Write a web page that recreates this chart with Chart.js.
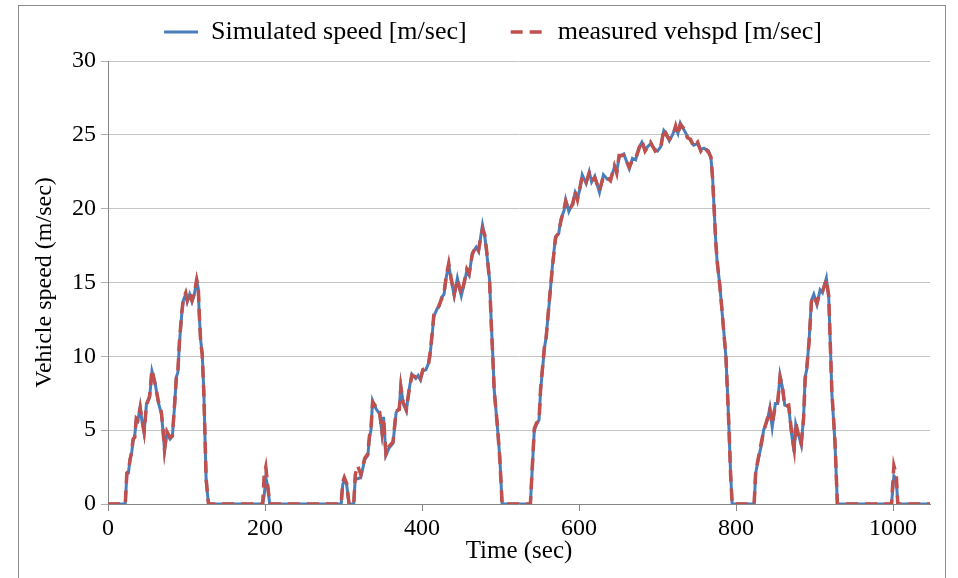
<!DOCTYPE html>
<html>
<head>
<meta charset="utf-8">
<script src="https://cdn.jsdelivr.net/npm/chart.js@4.4.0/dist/chart.umd.min.js"></script>
<style>
    html, body { margin: 0; padding: 0; background: #fff; }
    #wrap { position: relative; width: 958px; height: 578px; overflow: hidden; }
    #frame { position: absolute; left: 18px; top: 5px; width: 926px; height: 620px; border: 1px solid #8c8c8c; pointer-events: none; }
</style>
</head>
<body>
<div id="wrap">
    <canvas id="speed-chart" width="958" height="578"></canvas>
    <div id="frame"></div>
</div>
<script>
// Drive cycle: simulated vs measured vehicle speed

var timeSec = [
    0, 22, 24, 26, 28, 30, 32, 34, 36, 38, 41, 43, 46, 49, 53, 56, 60, 64, 68, 70,
    72, 75, 79, 82, 85, 87, 89, 91, 94, 96, 99, 101, 104, 107, 110, 113, 115, 116, 118, 120,
    122, 125, 128,
    197, 199, 201, 203, 206,
    297, 299, 301, 304, 307, 313, 315, 318, 322, 327, 331, 333, 335, 337, 340, 342, 346, 349, 351, 354,
    358, 363, 367, 371, 373, 376, 380, 383, 387, 392, 395, 398, 401, 405, 408, 410, 413, 415, 419, 422,
    425, 428, 431, 434, 437, 441, 445, 450, 454, 457, 460, 464, 469, 472, 475, 477, 480, 483, 486, 488,
    490, 492, 496, 499, 502,
    538, 541, 543, 546, 549, 551, 556, 558, 562, 566, 570, 574, 577, 581, 583, 587, 592, 595, 598, 601,
    604, 609, 613, 616, 620, 626, 631, 636, 640, 645, 648, 651, 657, 664, 668, 672, 676, 680, 684, 691,
    697, 700, 704, 708, 711, 715, 719, 723, 726, 729, 734, 738, 742, 746, 751, 755, 759, 765, 768, 770,
    772, 774, 776, 779, 782, 785, 787, 789, 791, 793, 795,
    823, 825, 829, 833, 835, 840, 843, 846, 850, 853, 856, 859, 862, 867, 871, 874, 876, 880, 883, 886,
    888, 890, 893, 896, 899, 903, 907, 910, 915, 918, 920, 922, 926, 929,
    998, 1001, 1004, 1006, 1047
];

var simulatedSpeed = [
    0, 0, 2.0, 2.1, 3.0, 3.4, 4.3, 4.6, 5.7, 5.6, 6.6, 5.7, 4.8, 6.8, 7.2, 9.0, 8.2, 6.9, 6.1, 5.0,
    3.6, 4.8, 4.4, 4.6, 6.8, 8.6, 8.9, 10.9, 12.9, 13.8, 14.2, 13.7, 14.2, 13.7, 14.2, 15.1, 14.6, 13.1, 11.1, 10.2,
    7.7, 1.6, 0,
    0, 0.6, 1.8, 1.3, 0,
    0, 1.3, 1.7, 1.3, 0, 0, 1.8, 1.7, 1.8, 3.0, 3.3, 4.5, 5.0, 7.0, 6.6, 6.4, 6.1, 4.8, 5.9, 3.3,
    3.8, 4.1, 6.2, 6.5, 8.0, 6.8, 6.3, 7.6, 8.8, 8.5, 8.7, 8.4, 9.0, 9.1, 9.5, 10.0, 11.5, 12.7, 13.2, 13.4,
    14.0, 14.2, 15.4, 16.2, 15.2, 14.1, 15.3, 14.1, 15.0, 15.8, 15.5, 17.0, 17.4, 17.1, 18.2, 18.9, 18.1, 16.7, 15.2, 12.5,
    10.2, 7.7, 5.2, 3.2, 0,
    0, 3.0, 5.0, 5.4, 5.7, 7.7, 10.6, 11.3, 13.6, 16.1, 18.1, 18.3, 19.3, 19.9, 20.6, 19.8, 20.4, 21.1, 20.7, 21.3,
    22.3, 21.7, 22.5, 21.8, 22.2, 21.1, 22.3, 22.0, 22.0, 22.8, 22.5, 23.5, 23.7, 22.7, 23.4, 23.3, 24.1, 24.5, 24.0, 24.4,
    24.0, 23.9, 24.2, 25.3, 25.1, 24.6, 25.0, 25.5, 25.1, 25.8, 25.3, 24.9, 24.6, 24.3, 24.4, 24.0, 24.1, 23.9, 23.4, 22.2,
    20.0, 17.9, 16.3, 15.0, 13.1, 11.3, 10.0, 7.7, 5.0, 2.1, 0,
    0, 2.1, 3.2, 4.2, 5.0, 5.7, 6.5, 5.2, 6.8, 6.8, 8.7, 7.9, 6.7, 6.6, 4.6, 3.5, 5.4, 4.6, 4.0, 5.9,
    8.6, 9.1, 11.1, 13.8, 14.2, 13.5, 14.5, 14.3, 15.3, 14.0, 10.9, 7.5, 4.1, 0,
    0, 1.9, 1.7, 0, 0
];

var measuredSpeed = [
    0, 0, 2.1, 2.2, 3.0, 3.5, 4.4, 4.5, 5.8, 5.7, 6.5, 5.8, 4.9, 6.7, 7.3, 9.1, 8.1, 7.0, 6.2, 5.1,
    3.7, 4.9, 4.5, 4.6, 6.9, 8.5, 9.0, 11.0, 13.0, 13.9, 14.3, 13.8, 14.3, 13.8, 14.3, 15.2, 14.7, 13.2, 11.0, 10.1,
    7.6, 1.7, 0,
    0, 2.0, 2.5, 1.5, 0,
    0, 1.5, 1.8, 1.4, 0, 0, 2.0, 2.6, 2.0, 3.1, 3.4, 4.6, 5.1, 6.9, 6.7, 6.3, 6.2, 4.9, 5.8, 3.4,
    3.9, 4.2, 6.3, 6.4, 7.9, 6.9, 6.4, 7.5, 8.7, 8.6, 8.8, 8.5, 9.1, 9.2, 9.4, 10.1, 11.6, 12.8, 13.1, 13.5,
    13.9, 14.3, 15.5, 16.3, 15.3, 14.2, 15.2, 14.2, 15.1, 15.9, 15.6, 16.9, 17.5, 17.2, 18.1, 18.6, 18.2, 16.8, 15.1, 12.4,
    10.1, 7.6, 5.3, 3.1, 0,
    0, 3.1, 5.1, 5.5, 5.6, 7.8, 10.7, 11.2, 13.7, 16.0, 18.0, 18.4, 19.2, 20.0, 20.5, 19.9, 20.3, 21.2, 20.6, 21.4,
    22.2, 21.8, 22.4, 21.9, 22.1, 21.2, 22.2, 22.1, 21.9, 22.9, 22.4, 23.6, 23.6, 22.8, 23.3, 23.4, 24.0, 24.6, 23.9, 24.5,
    23.9, 24.0, 24.1, 25.4, 25.0, 24.7, 24.9, 25.6, 25.0, 25.7, 25.4, 24.8, 24.7, 24.2, 24.5, 23.9, 24.2, 23.8, 23.5, 22.1,
    20.1, 17.8, 16.4, 14.9, 13.2, 11.2, 10.1, 7.6, 5.1, 2.0, 0,
    0, 2.2, 3.3, 4.4, 4.9, 5.8, 6.4, 5.4, 6.7, 6.9, 8.6, 8.0, 6.6, 6.7, 4.7, 3.7, 5.5, 4.5, 4.1, 5.8,
    8.5, 9.2, 11.0, 13.7, 14.1, 13.6, 14.4, 14.4, 15.2, 14.1, 10.8, 7.6, 4.2, 0,
    0, 2.6, 2.0, 0, 0
];

var seriesLabels = ['Simulated speed [m/sec]', 'measured vehspd [m/sec]'];
var xTitle = 'Time (sec)';
var yTitle = 'Vehicle speed (m/sec)';

var SERIF = '"Liberation Serif", "Times New Roman", serif';
var AXIS_GRAY = '#868686';

function toPoints(values) {
    var pts = [];
    for (var i = 0; i < timeSec.length; i++) {
        pts.push({ x: timeSec[i], y: values[i] });
    }
    return pts;
}

// nudge the legend so it sits where the original one does
var legendNudge = {
    id: 'legendNudge',
    afterLayout: function(chart) {
        if (!chart.legend) return;
        chart.legend.left += 18;
        chart.legend.right += 18;
        chart.legend.top -= 25;
    }
};

new Chart(document.getElementById('speed-chart'), {
    type: 'line',
    data: {
        datasets: [
            {
                label: seriesLabels[0],
                data: toPoints(simulatedSpeed),
                borderColor: '#4A7EBB',
                backgroundColor: '#4A7EBB',
                borderWidth: 3,
                order: 1
            },
            {
                label: seriesLabels[1],
                data: toPoints(measuredSpeed),
                borderColor: '#C0504D',
                backgroundColor: '#C0504D',
                borderWidth: 3.5,
                borderDash: [12, 7],
                order: 0
            }
        ]
    },
    options: {
        responsive: false,
        animation: false,
        layout: { padding: { left: 20, right: 28, top: 0, bottom: 0 } },
        elements: {
            line: { tension: 0, fill: false },
            point: { radius: 0, hoverRadius: 0 }
        },
        plugins: {
            tooltip: { enabled: false },
            legend: {
                position: 'top',
                maxHeight: 61,
                labels: {
                    usePointStyle: true,
                    pointStyle: 'line',
                    pointStyleWidth: 34,
                    padding: 44,
                    color: '#000',
                    font: { family: SERIF, size: 26 },
                    sort: function(a, b) { return a.datasetIndex - b.datasetIndex; },
                    // point-style items drop the dash, so copy it back from the dataset
                    generateLabels: function(chart) {
                        var items = Chart.defaults.plugins.legend.labels.generateLabels(chart);
                        items.forEach(function(item) {
                            var ds = chart.data.datasets[item.datasetIndex];
                            item.lineDash = ds.borderDash || [];
                            item.lineWidth = ds.borderWidth;
                            item.strokeStyle = ds.borderColor;
                        });
                        return items;
                    }
                }
            }
        },
        scales: {
            x: {
                type: 'linear',
                min: 0,
                max: 1047,
                afterFit: function(scale) { scale.height = 74; },
                ticks: {
                    stepSize: 200,
                    includeBounds: false,
                    maxRotation: 0,
                    padding: 3,
                    color: '#000',
                    font: { family: SERIF, size: 24 },
                    callback: function(value) { return String(value); }
                },
                grid: {
                    drawOnChartArea: false,
                    drawTicks: true,
                    tickLength: 7,
                    color: AXIS_GRAY
                },
                border: { color: AXIS_GRAY, width: 1 },
                title: {
                    display: true,
                    text: xTitle,
                    color: '#000',
                    font: { family: SERIF, size: 25 },
                    padding: { top: 0, bottom: 12 }
                }
            },
            y: {
                min: 0,
                max: 30,
                afterFit: function(scale) { scale.width = 88; },
                ticks: {
                    stepSize: 5,
                    padding: 5,
                    color: '#000',
                    font: { family: SERIF, size: 24 }
                },
                grid: {
                    color: '#C4C4C4',
                    tickColor: '#B0B0B0',
                    tickLength: 7
                },
                border: { color: AXIS_GRAY, width: 1 },
                title: {
                    display: true,
                    text: yTitle,
                    color: '#000',
                    font: { family: SERIF, size: 24 },
                    padding: { top: 10, bottom: 0 }
                }
            }
        }
    },
    plugins: [legendNudge]
});
</script>
</body>
</html>
